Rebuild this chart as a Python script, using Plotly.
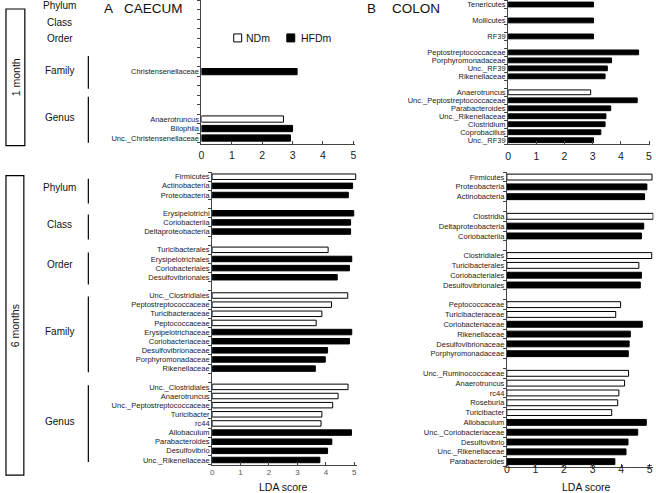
import plotly.graph_objects as go

W, H = 656, 493
FONT = "Arial, Liberation Sans, sans-serif"

# ---------------- data ----------------
# A  CAECUM, 1 month
ca1_taxon = ["Christensenellaceae", "Anaerotruncus", "Bilophila", "Unc._Christensenellaceae"]
ca1_level = ["Family", "Genus", "Genus", "Genus"]
ca1_diet = ["HFDm", "NDm", "HFDm", "HFDm"]
ca1_lda = [3.15, 2.70, 3.00, 2.93]

# A  CAECUM, 6 months
ca6_taxon = ["Firmicutes", "Actinobacteria", "Proteobacteria",
             "Erysipelotrichi", "Coriobacteriia", "Deltaproteobacteria",
             "Turicibacterales", "Erysipelotrichales", "Coriobacteriales", "Desulfovibrionales",
             "Unc._Clostridiales", "Peptostreptococcaceae", "Turicibacteraceae", "Peptococcaceae",
             "Erysipelotrichaceae", "Coriobacteriaceae", "Desulfovibrionaceae", "Porphyromonadaceae",
             "Rikenellaceae",
             "Unc._Clostridiales", "Anaerotruncus", "Unc._Peptostreptococcaceae", "Turicibacter",
             "rc44", "Allobaculum", "Parabacteroides", "Desulfovibrio", "Unc._Rikenellaceae"]
ca6_level = ["Phylum"] * 3 + ["Class"] * 3 + ["Order"] * 4 + ["Family"] * 9 + ["Genus"] * 9
ca6_diet = ["NDm", "HFDm", "HFDm",
            "HFDm", "HFDm", "HFDm",
            "NDm", "HFDm", "HFDm", "HFDm",
            "NDm", "NDm", "NDm", "NDm", "HFDm", "HFDm", "HFDm", "HFDm", "HFDm",
            "NDm", "NDm", "NDm", "NDm", "NDm", "HFDm", "HFDm", "HFDm", "HFDm"]
ca6_lda = [5.05, 4.94, 4.79,
           4.98, 4.87, 4.87,
           4.08, 4.91, 4.83, 4.40,
           4.77, 4.20, 3.86, 3.66, 4.91, 4.83, 4.06, 3.98, 3.63,
           4.78, 4.43, 4.24, 3.86, 3.83, 4.90, 4.21, 4.06, 3.79]

# B  COLON, 1 month
co1_taxon = ["Tenericutes", "Mollicutes", "RF39",
             "Peptostreptococcaceae", "Porphyromonadaceae", "Unc._RF39", "Rikenellaceae",
             "Anaerotruncus", "Unc._Peptostreptococcaceae", "Parabacteroides", "Unc._Rikenellaceae",
             "Clostridium", "Coprobacillus", "Unc._RF39"]
co1_level = ["Phylum", "Class", "Order"] + ["Family"] * 4 + ["Genus"] * 7
co1_diet = ["HFDm", "HFDm", "HFDm",
            "HFDm", "HFDm", "HFDm", "HFDm",
            "NDm", "HFDm", "HFDm", "HFDm", "HFDm", "HFDm", "HFDm"]
co1_lda = [3.03, 3.03, 3.03,
           4.63, 3.67, 3.52, 3.44,
           2.93, 4.58, 3.64, 3.47, 3.44, 3.29, 3.03]

# B  COLON, 6 months
co6_taxon = ["Firmicutes", "Proteobacteria", "Actinobacteria",
             "Clostridia", "Deltaproteobacteria", "Coriobacteriia",
             "Clostridiales", "Turicibacterales", "Coriobacteriales", "Desulfovibrionales",
             "Peptococcaceae", "Turicibacteraceae", "Coriobacteriaceae", "Rikenellaceae",
             "Desulfovibrionaceae", "Porphyromonadaceae",
             "Unc._Ruminococcaceae", "Anaerotruncus", "rc44", "Roseburia", "Turicibacter",
             "Allobaculum", "Unc._Coriobacteriaceae", "Desulfovibrio", "Unc._Rikenellaceae",
             "Parabacteroides"]
co6_level = ["Phylum"] * 3 + ["Class"] * 3 + ["Order"] * 4 + ["Family"] * 6 + ["Genus"] * 10
co6_diet = ["NDm", "HFDm", "HFDm",
            "NDm", "HFDm", "HFDm",
            "NDm", "NDm", "HFDm", "HFDm",
            "NDm", "NDm", "HFDm", "HFDm", "HFDm", "HFDm",
            "NDm", "NDm", "NDm", "NDm", "NDm", "HFDm", "HFDm", "HFDm", "HFDm", "HFDm"]
co6_lda = [5.08, 4.90, 4.82,
           5.12, 4.79, 4.71,
           5.07, 4.62, 4.71, 4.67,
           3.98, 3.81, 4.74, 4.32, 4.28, 4.25,
           4.26, 4.12, 3.92, 3.88, 3.67, 4.88, 4.58, 4.24, 4.17, 3.78]

x_ticks = [0, 1, 2, 3, 4, 5]
level_names = ["Phylum", "Class", "Order", "Family", "Genus"]


# ---------------- helpers ----------------
def px(x):
    return x / W


def py(y):
    return 1 - y / H


def row_slots(levels, start=None):
    """Row index on a categorical-like axis: a blank row between taxonomic levels."""
    out, s, prev = [], 0, None
    for lv in levels:
        if prev is not None and lv != prev:
            s += 1
        if start and lv in start and lv != prev:
            s = start[lv]
        out.append(s)
        s += 1
        prev = lv
    return out


STYLE = {"NDm": dict(color="white", line=dict(color="black", width=1)),
         "HFDm": dict(color="black", line=dict(color="black", width=1))}

panels = [
    dict(t=ca1_taxon, l=ca1_level, d=ca1_diet, v=ca1_lda, start={"Family": 7, "Genus": 12},
         n=15.1, x0=200, x5=353, xmax=5.05, yt=0.5, yb=144, bw=0.66, xf=10.5, xc="#222", so=2),
    dict(t=ca6_taxon, l=ca6_level, d=ca6_diet, v=ca6_lda, start=None,
         n=None, x0=210.7, x5=354, xmax=5.1, yt=172.5, yb=465.5, bw=0.6, xf=8, xc="#555", so=0),
    dict(t=co1_taxon, l=co1_level, d=co1_diet, v=co1_lda, start=None,
         n=None, x0=509, x5=651, xmax=5.05, yt=0.5, yb=144.5, bw=0.6, xf=10.5, xc="#222", so=2),
    dict(t=co6_taxon, l=co6_level, d=co6_diet, v=co6_lda, start=None,
         n=None, x0=507.7, x5=651.7, xmax=5.13, yt=172.5, yb=467.5, bw=0.6, xf=10.5, xc="#222", so=-7),
]

fig = go.Figure()
layout = dict(
    width=W, height=H, margin=dict(l=0, r=0, t=0, b=0),
    paper_bgcolor="white", plot_bgcolor="white",
    showlegend=False, font=dict(family=FONT, color="#111"),
    barmode="overlay",
)

for i, p in enumerate(panels, start=1):
    sfx = "" if i == 1 else str(i)
    pos = row_slots(p["l"], p["start"])
    nslots = p["n"] if p["n"] else pos[-1] + 1
    for diet in ["NDm", "HFDm"]:
        idx = [k for k, d in enumerate(p["d"]) if d == diet]
        if not idx:
            continue
        fig.add_trace(go.Bar(
            orientation="h",
            x=[p["v"][k] for k in idx],
            y=[pos[k] for k in idx],
            width=p["bw"], marker=STYLE[diet], name=diet,
            hovertext=[p["t"][k] for k in idx],
            xaxis="x" + sfx, yaxis="y" + sfx,
        ))
    unit = (p["x5"] - p["x0"]) / 5
    xr = p["x0"] + unit * p["xmax"]
    layout["xaxis" + sfx] = dict(
        domain=[px(p["x0"]), px(xr)], anchor="y" + sfx, range=[0, p["xmax"]],
        tickvals=x_ticks, ticks="inside", ticklen=3, tickcolor="#444",
        showline=True, linecolor="#444", linewidth=1,
        showgrid=False, zeroline=False, ticklabelstandoff=p["so"],
        tickfont=dict(size=p["xf"], color=p["xc"], family=FONT),
    )
    bounds = [b - 0.5 for b in range(int(nslots) + 1)]
    layout["yaxis" + sfx] = dict(
        domain=[py(p["yb"]), py(p["yt"])], anchor="x" + sfx,
        range=[nslots - 0.5, -0.5],
        tickvals=pos, ticktext=p["t"], ticks="",
        showline=True, linecolor="#444", linewidth=1,
        showgrid=False, zeroline=False,
        tickfont=dict(size=7.5, color="#222", family=FONT),
        minor=dict(tickmode="array", tickvals=bounds, ticks="outside",
                   ticklen=3, tickcolor="#444", showgrid=False),
    )

ann = []
shapes = []


def text(x, y, s, size, angle=0, xanchor="center", color="#111"):
    ann.append(dict(x=px(x), y=py(y), xref="paper", yref="paper", text=s,
                    showarrow=False, xanchor=xanchor, yanchor="middle",
                    textangle=angle, font=dict(size=size, family=FONT, color=color)))


def line(x0, y0, x1, y1, w=1.2):
    shapes.append(dict(type="line", xref="paper", yref="paper",
                       x0=px(x0), y0=py(y0), x1=px(x1), y1=py(y1),
                       line=dict(color="black", width=w)))


def rect(x0, y0, x1, y1, fill="white", w=1.2):
    shapes.append(dict(type="rect", xref="paper", yref="paper",
                       x0=px(x0), y0=py(y0), x1=px(x1), y1=py(y1),
                       fillcolor=fill, line=dict(color="black", width=w)))


# panel titles
text(106, 9, "A", 13.5)
text(120, 9, "CAECUM", 13.5, xanchor="left")
text(371, 9, "B", 13.5)
text(390, 9, "COLON", 13.5, xanchor="left")

# legend
rect(232.5, 34, 240.5, 42, fill="white", w=1)
text(243, 38, "NDm", 10.5, xanchor="left")
rect(286, 34, 294, 42, fill="black", w=1)
text(298, 38, "HFDm", 10.5, xanchor="left")

# time boxes
rect(3, 9, 22, 146)
text(12.5, 77, "1 month", 10.5, angle=-90)
rect(3, 176, 21, 476)
text(12, 326, "6 months", 10.5, angle=-90)

# taxonomic level labels (1 month)
for name, y in zip(level_names, [6, 22.5, 39, 71, 118]):
    text(57, y, name, 10)
line(86, 56, 86, 89)
line(86, 97, 86, 143)

# taxonomic level labels (6 months)
for name, y in zip(level_names, [187.5, 225, 265.5, 332.5, 422.5]):
    text(57, y, name, 10)
for y0, y1 in [(179, 204), (215, 240), (253, 285), (297, 373), (386, 463)]:
    line(86, y0, 86, y1)

# axis titles
text(283, 488, "LDA score", 10.5)
text(588, 487.5, "LDA score", 10.5)

layout["annotations"] = ann
layout["shapes"] = shapes
fig.update_layout(**layout)
fig.write_html(
    "out.html",
    config={"displayModeBar": False},
    post_script="document.body.style.margin='0px';document.body.style.overflow='hidden';",
)
